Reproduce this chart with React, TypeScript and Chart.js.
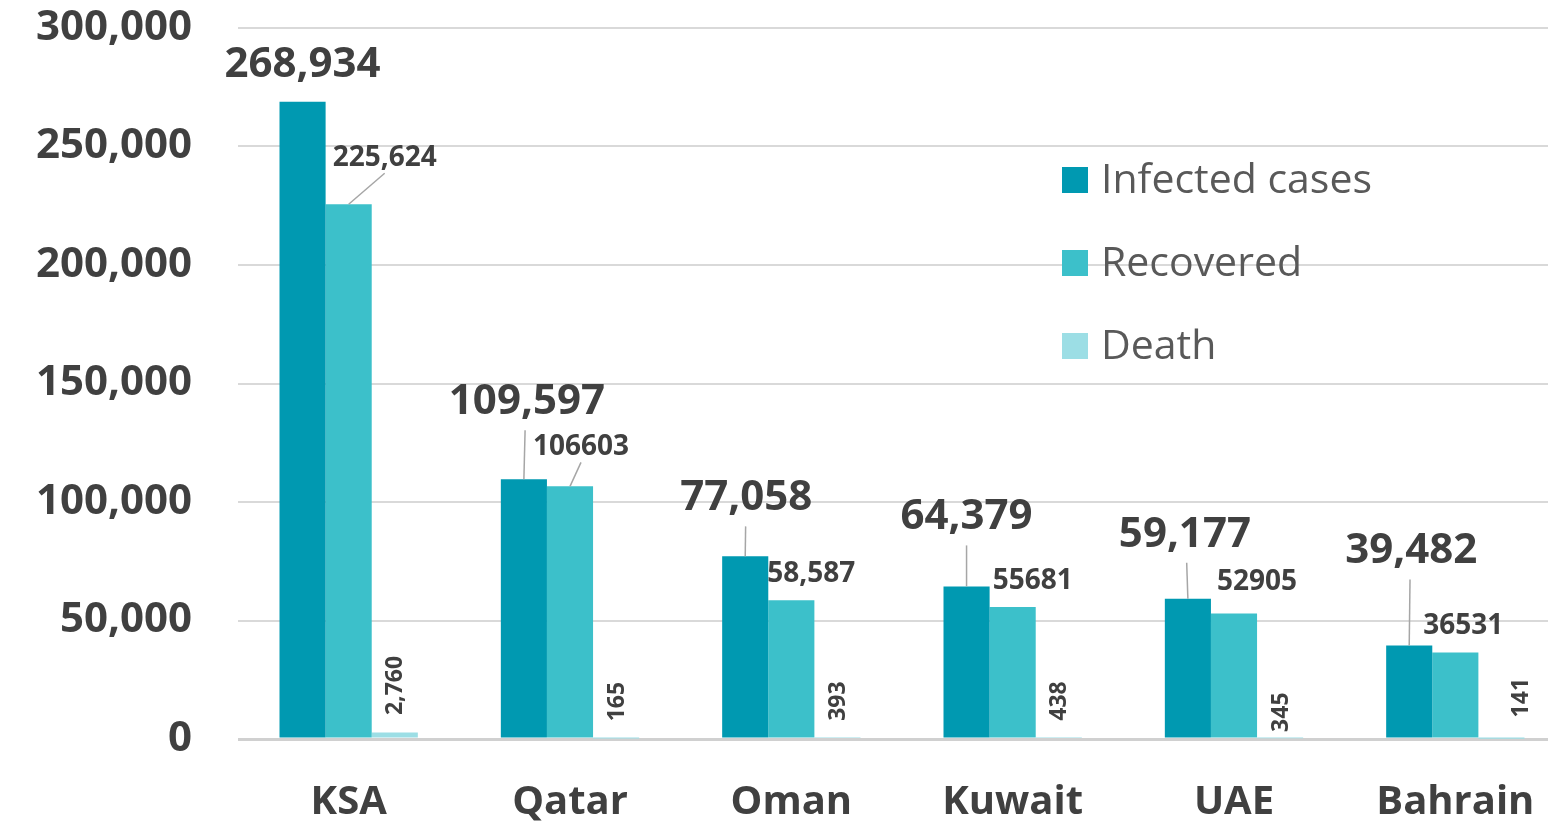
import React, { useEffect, useRef } from "react";
import { Chart, registerables } from "chart.js";

Chart.register(...registerables);

const categories = ["KSA", "Qatar", "Oman", "Kuwait", "UAE", "Bahrain"];
const infected = [268934, 109597, 77058, 64379, 59177, 39482];
const recovered = [225624, 106603, 58587, 55681, 52905, 36531];
const deaths = [2760, 165, 393, 438, 345, 141];
const recoveredUseComma = [true, false, true, false, false, false];
const yTicks = [0, 50000, 100000, 150000, 200000, 250000, 300000];
const seriesNames = ["Infected cases", "Recovered", "Death"];
const seriesColors = ["#0099B1", "#3CC0CA", "#9CDEE5"];

// label placement (offsets from bar centre / top), styling only
const infOffsets = [
  [0, -37, 0], [3, -77, 1], [1, -58, 1], [0, -69, 1], [-3, -64, 1], [2, -94, 1],
];
const recOffsets = [
  [36, -46, 1], [11, -39, 1], [20, -26, 0], [20, -26, 0], [23, -32, 0], [8, -26, 0],
];
const deathOffsets = [
  [1, -47], [1, -37], [1, -37], [1, -37], [1, -26], [20, -41],
];

const FONT = "'Open Sans', 'Noto Sans', sans-serif";
const fmt = (v: number) => v.toLocaleString("en-US");

const labelPlugin = {
  id: "customLabels",
  afterDatasetsDraw(chart: any) {
    const ctx = chart.ctx;
    ctx.save();
    ctx.fillStyle = "#404040";
    ctx.strokeStyle = "#A6A6A6";
    ctx.lineWidth = 1.5;
    ctx.textAlign = "center";
    ctx.textBaseline = "middle";
    const m0 = chart.getDatasetMeta(0);
    m0.data.forEach((el: any, i: number) => {
      const [dx, dy, lead] = infOffsets[i];
      const lx = el.x + dx;
      const ly = el.y + dy;
      if (lead) {
        ctx.beginPath();
        ctx.moveTo(el.x, el.y);
        ctx.lineTo(el.x + dx * 0.4, ly + 28);
        ctx.stroke();
      }
      ctx.font = `bold 42px ${FONT}`;
      ctx.fillText(fmt(infected[i]), lx, ly);
    });
    const m1 = chart.getDatasetMeta(1);
    m1.data.forEach((el: any, i: number) => {
      const [dx, dy, lead] = recOffsets[i];
      const lx = el.x + dx;
      const ly = el.y + dy;
      if (lead) {
        ctx.beginPath();
        ctx.moveTo(el.x, el.y);
        ctx.lineTo(lx, ly + 15);
        ctx.stroke();
      }
      ctx.font = `bold 28px ${FONT}`;
      const t = recoveredUseComma[i] ? fmt(recovered[i]) : String(recovered[i]);
      ctx.fillText(t, lx, ly);
    });
    const m2 = chart.getDatasetMeta(2);
    m2.data.forEach((el: any, i: number) => {
      const [dx, dy] = deathOffsets[i];
      const base = chart.scales.y.getPixelForValue(0);
      ctx.save();
      ctx.translate(el.x + dx, Math.min(el.y, base) + dy);
      ctx.rotate(-Math.PI / 2);
      ctx.font = `bold 23px ${FONT}`;
      ctx.fillText(fmt(deaths[i]), 0, 0);
      ctx.restore();
    });
    ctx.textAlign = "left";
    ctx.font = `41px ${FONT}`;
    seriesNames.forEach((name, i) => {
      const cy = 180 + i * 83;
      ctx.fillStyle = seriesColors[i];
      ctx.fillRect(1062, cy - 13, 26, 26);
      ctx.fillStyle = "#595959";
      ctx.fillText(name, 1101, cy + 1);
    });
    ctx.restore();
  },
};

export default function App() {
  const ref = useRef<HTMLCanvasElement | null>(null);
  useEffect(() => {
    if (!ref.current) return;
    const chart = new Chart(ref.current, {
      type: "bar",
      data: {
        labels: categories,
        datasets: [
          { label: seriesNames[0], data: infected, backgroundColor: seriesColors[0] },
          { label: seriesNames[1], data: recovered, backgroundColor: seriesColors[1] },
          { label: seriesNames[2], data: deaths, backgroundColor: seriesColors[2] },
        ],
      },
      options: {
        responsive: false,
        animation: false,
        layout: { padding: { top: 28, right: 14, left: 0, bottom: 0 } },
        datasets: {
          bar: { barPercentage: 1, categoryPercentage: 0.625 },
        },
        plugins: {
          legend: { display: false },
          title: { display: false },
          tooltip: { enabled: false },
        },
        scales: {
          x: {
            grid: { display: false, drawTicks: false },
            border: { display: false },
            ticks: {
              color: "#404040",
              font: { family: FONT, size: 40, weight: "bold" },
              padding: 40,
              maxRotation: 0,
            },
            afterFit(scale: any) {
              scale.height = 84;
            },
          },
          y: {
            min: 0,
            max: 300000,
            afterBuildTicks(scale: any) {
              scale.ticks = yTicks.map((v) => ({ value: v }));
            },
            grid: {
              drawTicks: false,
              color: (c: any) => (c.tick && c.tick.value === 0 ? "#D0D0D0" : "#D9D9D9"),
              lineWidth: (c: any) => (c.tick && c.tick.value === 0 ? 3 : 2),
            },
            border: { display: false },
            ticks: {
              color: "#404040",
              font: { family: FONT, size: 42, weight: "bold" },
              padding: 46,
              callback: (v: any) => fmt(Number(v)),
            },
            afterFit(scale: any) {
              scale.width = 238;
              scale.paddingTop = 0;
              scale.paddingBottom = 0;
            },
          },
        },
      },
      plugins: [labelPlugin],
    });
    return () => chart.destroy();
  }, []);
  return (
    <div
      style={{
        position: "fixed",
        left: 0,
        top: 0,
        width: 1548,
        height: 823,
        overflow: "hidden",
        background: "#fff",
      }}
    >
      <canvas ref={ref} width={1580} height={823} style={{ display: "block" }} />
    </div>
  );
}
